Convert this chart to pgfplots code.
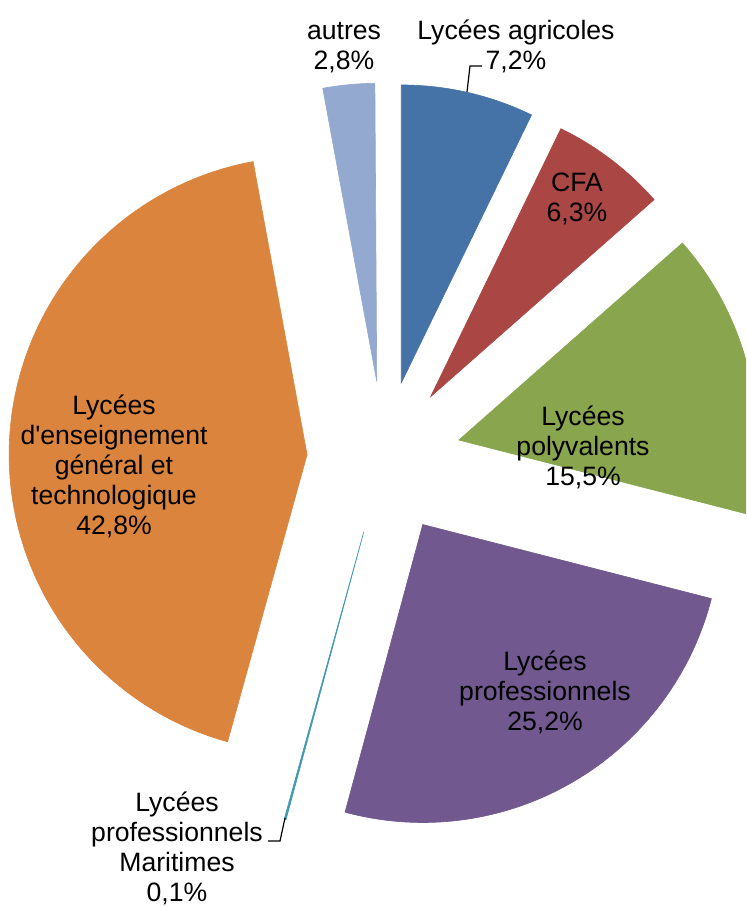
\documentclass[border=0pt]{standalone}
\usepackage{pgfplots}
\pgfplotsset{compat=1.18}
\usepackage{fontspec}
\setmainfont{Liberation Sans}

\definecolor{cAgri}{HTML}{4572A7}
\definecolor{cCFA}{HTML}{AA4643}
\definecolor{cPoly}{HTML}{89A54E}
\definecolor{cPro}{HTML}{71588F}
\definecolor{cMar}{HTML}{4198AF}
\definecolor{cLEGT}{HTML}{DB843D}
\definecolor{cAutres}{HTML}{93A9CF}

\tikzset{lbl/.style={font=\fontsize{13.3}{15}\selectfont, align=center, text=black, inner sep=0pt}}

% pie geometry (axis units = pixels of the reference)
\def\cx{384}\def\cy{449}\def\rad{298}\def\expl{77}
\def\cum{0}
% #1 = share in percent, #2 = colour
\newcommand\slice[2]{%
  \pgfmathsetmacro\aS{90-3.6*\cum}%
  \pgfmathsetmacro\aE{90-3.6*(\cum+#1)}%
  \pgfmathsetmacro\aM{(\aS+\aE)/2}%
  \pgfmathsetmacro\px{\cx+\expl*cos(\aM)}%
  \pgfmathsetmacro\py{\cy+\expl*sin(\aM)}%
  \edef\temp{\noexpand\addplot[fill=#2, draw=#2, line width=0.3pt, domain=\aE:\aS, samples=80, variable=\noexpand\t]
    ({\px+\rad*cos(\noexpand\t)}, {\py+\rad*sin(\noexpand\t)}) -- (axis cs:\px,\py) -- cycle;}%
  \temp
  \pgfmathsetmacro\cum{\cum+#1}%
}

\begin{document}
\begin{tikzpicture}
\begin{axis}[
    x=0.5pt, y=0.5pt,
    xmin=0, xmax=746, ymin=0, ymax=907,
    hide axis,
    clip=true,
]
\slice{7.2}{cAgri}
\slice{6.3}{cCFA}
\slice{15.5}{cPoly}
\slice{25.2}{cPro}
\slice{0.1}{cMar}
\slice{42.8}{cLEGT}
\slice{2.8}{cAutres}

% leader lines
\addplot[black, line width=0.6pt] coordinates {(482,841) (470,841) (467,815)};
\addplot[black, line width=0.6pt] coordinates {(268,66) (280,66) (285,89)};

\node[lbl] at (axis cs:344,859) {autres\\2,8\%};
\node[lbl] at (axis cs:516,861) {Lycées agricoles\\7,2\%};
\node[lbl] at (axis cs:577,708) {CFA\\6,3\%};
\node[lbl] at (axis cs:583,460) {Lycées\\polyvalents\\15,5\%};
\node[lbl] at (axis cs:545,215) {Lycées\\professionnels\\25,2\%};
\node[lbl] at (axis cs:114,441) {Lycées\\d\textquotesingle enseignement\\général et\\technologique\\42,8\%};
\node[lbl] at (axis cs:177,59) {Lycées\\professionnels\\Maritimes\\0,1\%};
\end{axis}
\pgfresetboundingbox
\path (current axis.south west) rectangle (current axis.north east);
\end{tikzpicture}
\end{document}
